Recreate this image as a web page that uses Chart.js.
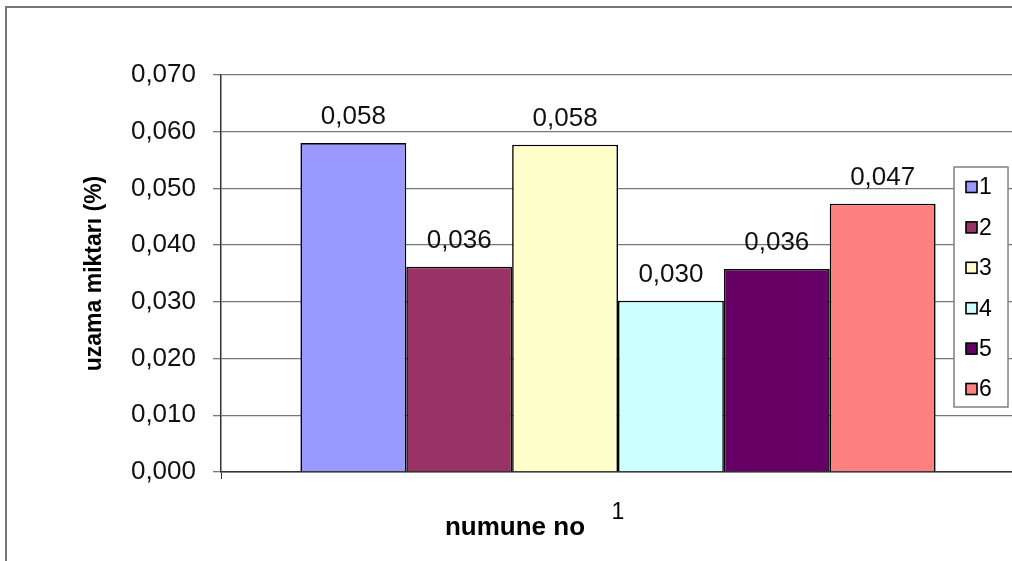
<!DOCTYPE html>
<html>
<head>
<meta charset="utf-8">
<script src="https://cdn.jsdelivr.net/npm/chart.js@4.4.1/dist/chart.umd.min.js"></script>
<style>
  html, body { margin: 0; padding: 0; background: #fff; overflow: hidden; width: 1012px; height: 561px; }
  #frame { position: absolute; left: 5px; top: 6px; width: 1100px; height: 700px; border: 2px solid #777; box-sizing: border-box; }
  #wrap { position: absolute; left: 0; top: 0; width: 1025px; height: 561px; }
</style>
</head>
<body>
<div id="frame"></div>
<div id="wrap"><canvas id="c" width="1025" height="561"></canvas></div>
<script>
// Elongation per specimen (single group "1", six specimens)
const categories = ['1'];
const seriesNames = ['1', '2', '3', '4', '5', '6'];
const seriesValues = [0.0580, 0.0362, 0.0577, 0.0302, 0.0358, 0.0473];
const seriesColors = ['#9999FF', '#993366', '#FFFFCC', '#CCFFFF', '#660066', '#FF8080'];
const yTickValues = [0, 0.01, 0.02, 0.03, 0.04, 0.05, 0.06, 0.07];
const yTickLabels = ['0,000', '0,010', '0,020', '0,030', '0,040', '0,050', '0,060', '0,070'];
const xTitle = 'numune no';
const yTitle = 'uzama miktarı (%)';

const FONT = "'Liberation Sans', Arial, sans-serif";
const fmt = v => v.toFixed(3).replace('.', ',');

const datasets = seriesNames.map((name, i) => ({
  label: name,
  data: [seriesValues[i]],
  backgroundColor: seriesColors[i],
  borderColor: '#000',
  borderWidth: 1.6,
  borderSkipped: 'bottom'
}));

// value labels above each bar, axis titles and the boxed legend
const decorations = {
  id: 'decorations',
  afterDatasetsDraw(chart) {
    const ctx = chart.ctx;
    ctx.save();
    ctx.fillStyle = '#111';
    ctx.font = `26px ${FONT}`;
    ctx.textAlign = 'center';
    ctx.textBaseline = 'middle';
    chart.data.datasets.forEach((ds, i) => {
      const bar = chart.getDatasetMeta(i).data[0];
      ctx.fillText(fmt(ds.data[0]), bar.x, bar.y - 26);
    });
    ctx.restore();
  },
  afterDraw(chart) {
    const ctx = chart.ctx;
    const area = chart.chartArea;
    ctx.save();
    ctx.fillStyle = '#000';
    // x-axis title
    ctx.font = `bold 26px ${FONT}`;
    ctx.textAlign = 'center';
    ctx.textBaseline = 'alphabetic';
    ctx.fillText(xTitle, area.left + 294, 535);
    // y-axis title
    ctx.save();
    ctx.translate(101, (area.top + area.bottom) / 2);
    ctx.rotate(-Math.PI / 2);
    ctx.font = `bold 23px ${FONT}`;
    ctx.fillText(yTitle, 0, 0);
    ctx.restore();
    // legend
    const lx = 954, ly = 167, lw = 54, lh = 240;
    ctx.fillStyle = '#fff';
    ctx.fillRect(lx, ly, lw, lh);
    ctx.strokeStyle = '#808080';
    ctx.lineWidth = 1.5;
    ctx.strokeRect(lx, ly, lw, lh);
    ctx.font = `23px ${FONT}`;
    ctx.textAlign = 'left';
    ctx.textBaseline = 'middle';
    chart.data.datasets.forEach((ds, i) => {
      const cy = 187 + i * 40.4;
      ctx.fillStyle = ds.backgroundColor;
      ctx.fillRect(966, cy - 5.5, 11, 11);
      ctx.strokeStyle = '#000';
      ctx.lineWidth = 1.6;
      ctx.strokeRect(966, cy - 5.5, 11, 11);
      ctx.fillStyle = '#000';
      ctx.fillText(ds.label, 979, cy + 1);
    });
    ctx.restore();
  }
};

new Chart(document.getElementById('c'), {
  type: 'bar',
  data: { labels: categories, datasets },
  plugins: [decorations],
  options: {
    responsive: false,
    animation: false,
    layout: { padding: { left: 0, top: 75, right: 10, bottom: 0 } },
    datasets: { bar: { categoryPercentage: 0.8, barPercentage: 1.0 } },
    plugins: { legend: { display: false }, tooltip: { enabled: false } },
    scales: {
      x: {
        grid: { display: true, drawOnChartArea: false, drawTicks: true, tickLength: 7, color: '#333', offset: true },
        border: { color: '#333', width: 1.5 },
        ticks: { color: '#000', padding: 20, font: { family: FONT, size: 23 } },
        afterFit(scale) { scale.height = 89; }
      },
      y: {
        min: 0,
        max: 0.07,
        afterBuildTicks(scale) { scale.ticks = yTickValues.map(v => ({ value: v })); },
        ticks: {
          color: '#111',
          padding: 17,
          font: { family: FONT, size: 26 },
          callback: (v, i) => yTickLabels[i]
        },
        grid: { color: '#777', lineWidth: 1.3, tickLength: 8, drawTicks: true },
        border: { color: '#333', width: 1.5 },
        afterFit(scale) { scale.width = 221; }
      }
    }
  }
});
</script>
</body>
</html>
